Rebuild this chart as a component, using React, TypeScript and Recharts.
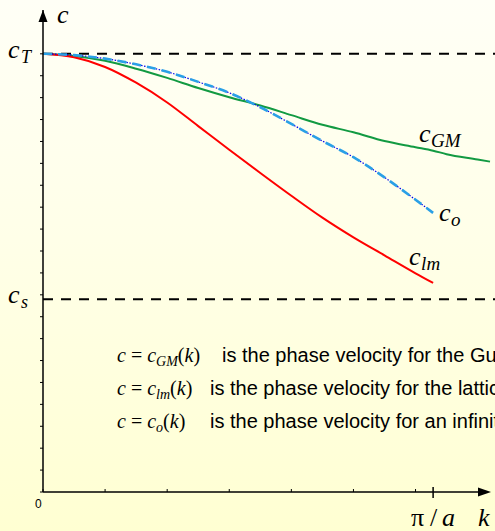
import { LineChart, Line, XAxis, YAxis, ReferenceLine, ReferenceDot, Customized } from "recharts";

// wave number k (a = 1, so the zone edge is at k = pi)
const kValues = [0, 0.25, 0.5, 0.75, 1, 1.25, 1.5, 1.75, 2, 2.25, 2.5, 2.75, 3, Math.PI, 3.25, 3.5, 3.6];
// phase velocities, scaled so that c_T = 1
const cGM = [1.0, 0.995, 0.984, 0.966, 0.945, 0.922, 0.901, 0.882, 0.86, 0.838, 0.821, 0.801, 0.787, 0.779, 0.771, 0.759, 0.754];
const cLm = [1.0, 0.992, 0.97, 0.934, 0.889, 0.835, 0.781, 0.728, 0.676, 0.626, 0.581, 0.54, 0.499, 0.477, null, null, null];
const cO = [1.0, 0.997, 0.989, 0.976, 0.959, 0.936, 0.911, 0.878, 0.84, 0.801, 0.764, 0.718, 0.667, 0.637, null, null, null];

const cT = 1;
const cS = 0.44;

const xTicks = [0, 0.5, 1, 1.5, 2, 2.5, 3, Math.PI];
const yTicks = [0, 0.05, 0.1, 0.15, 0.2, 0.25, 0.3, 0.35, 0.4, 0.45, 0.5, 0.55, 0.6, 0.65, 0.7, 0.75, 0.8, 0.85, 0.9, 0.95, 1];

const legendLines = [
  { sub: "GM", text: "is the phase velocity for the Gurtin–Murdoch model", textX: 222 },
  { sub: "lm", text: "is the phase velocity for the lattice model", textX: 210 },
  { sub: "o", text: "is the phase velocity for an infinite plate", textX: 210 },
];

const W = 495;
const H = 531;
const LEFT = 43;
const TOP = 10;
const BOTTOM = 492;
const X_ARROW_TIP = 491;

const SERIF = '"Liberation Serif", "Times New Roman", serif';
const SANS = '"Liberation Sans", Arial, sans-serif';

const data = kValues.map((k, i) => ({ k, gm: cGM[i], lm: cLm[i], o: cO[i] }));

function XTick({ x, y, payload }: any) {
  const isEdge = Math.abs(payload.value - Math.PI) < 1e-6;
  return (
    <g>
      {isEdge ? (
        <line x1={x} x2={x} y1={y - 5} y2={y + 6} stroke="#000" strokeWidth={1.5} />
      ) : (
        <line x1={x} x2={x} y1={y - 3} y2={y} stroke="#000" strokeWidth={1} />
      )}
      {payload.value === 0 && (
        <text x={x - 8} y={y + 16} fontFamily={SANS} fontSize={12} fill="#000">
          0
        </text>
      )}
    </g>
  );
}

function YTick({ x, y }: any) {
  return <line x1={x - 3} x2={x} y1={y} y2={y} stroke="#000" strokeWidth={1} />;
}

function LevelLabel({ viewBox, sub }: any) {
  const { x, y } = viewBox;
  return (
    <text x={x - 35} y={y + 4} fontFamily={SERIF} fontStyle="italic" fontSize={26} fill="#000">
      c
      <tspan x={x - 22} dy={5} fontSize={18}>
        {sub}
      </tspan>
    </text>
  );
}

function CurveLabel({ viewBox, sub, dx, dy }: any) {
  const x = viewBox.x + dx;
  const y = viewBox.y + dy;
  return (
    <text x={x} y={y} fontFamily={SERIF} fontStyle="italic" fontSize={26} fill="#000">
      c
      <tspan x={x + 12} dy={5} fontSize={19}>
        {sub}
      </tspan>
    </text>
  );
}

function Decorations() {
  return (
    <g>
      {/* x axis with arrow */}
      <line x1={LEFT} x2={X_ARROW_TIP - 8} y1={BOTTOM} y2={BOTTOM} stroke="#000" strokeWidth={1.5} />
      <path d={`M${X_ARROW_TIP},${BOTTOM} L${X_ARROW_TIP - 13},${BOTTOM - 4.5} L${X_ARROW_TIP - 13},${BOTTOM + 4.5} Z`} fill="#000" />
      {/* y axis arrow */}
      <path d={`M${LEFT},${TOP} L${LEFT - 4.5},${TOP + 12} L${LEFT + 4.5},${TOP + 12} Z`} fill="#000" />

      <text x={57} y={23} fontFamily={SERIF} fontStyle="italic" fontSize={26} fill="#000">
        c
      </text>
      <text x={411} y={526} fontFamily={SERIF} fontSize={26} fill="#000">
        π
      </text>
      <text x={430} y={526} fontFamily={SERIF} fontSize={26} fill="#000">
        /
      </text>
      <text x={442} y={526} fontFamily={SERIF} fontStyle="italic" fontSize={26} fill="#000">
        a
      </text>
      <text x={478} y={526} fontFamily={SERIF} fontStyle="italic" fontSize={26} fill="#000">
        k
      </text>

      {legendLines.map((l, i) => {
        const y = 362 + i * 33;
        return (
          <g key={l.sub}>
            <text x={117} y={y} fontFamily={SERIF} fontSize={20} fill="#000" style={{ whiteSpace: "pre" }}>
              <tspan fontStyle="italic">c</tspan>
              <tspan> = </tspan>
              <tspan fontStyle="italic">c</tspan>
              <tspan fontStyle="italic" fontSize={14} dy={4}>
                {l.sub}
              </tspan>
              <tspan dy={-4}>(</tspan>
              <tspan fontStyle="italic">k</tspan>
              <tspan>)</tspan>
            </text>
            <text x={l.textX} y={y} fontFamily={SANS} fontSize={20} fill="#000">
              {l.text}
            </text>
          </g>
        );
      })}
    </g>
  );
}

export default function App() {
  return (
    <div
      style={{
        position: "absolute",
        left: 0,
        top: 0,
        width: W,
        height: H,
        overflow: "hidden",
        background: "linear-gradient(to bottom, #fffff6 0%, #ffffe8 45%, #ffffd2 100%)",
      }}
    >
      <LineChart width={W} height={H} data={data} margin={{ top: TOP, right: 0, bottom: 0, left: 0 }}>
        <XAxis
          dataKey="k"
          type="number"
          domain={[0, 3.64]}
          ticks={xTicks}
          height={H - BOTTOM}
          axisLine={false}
          tickLine={false}
          tickSize={0}
          tickMargin={0}
          tick={<XTick />}
          interval={0}
          allowDataOverflow
        />
        <YAxis
          type="number"
          domain={[0, 1.1]}
          ticks={yTicks}
          width={LEFT}
          axisLine={{ stroke: "#000", strokeWidth: 1.5 }}
          tickLine={false}
          tickSize={0}
          tickMargin={0}
          tick={<YTick />}
          interval={0}
          allowDataOverflow
        />
        <ReferenceLine y={cT} stroke="#000" strokeWidth={2} strokeDasharray="10 8" label={<LevelLabel sub="T" />} />
        <ReferenceLine y={cS} stroke="#000" strokeWidth={2} strokeDasharray="10 8" label={<LevelLabel sub="s" />} />

        <Line type="monotone" dataKey="gm" stroke="#129a42" strokeWidth={2} dot={false} isAnimationActive={false} />
        <Line type="monotone" dataKey="lm" stroke="#ff0000" strokeWidth={2} dot={false} isAnimationActive={false} connectNulls={false} />
        <Line type="monotone" dataKey="o" stroke="#0000ee" strokeWidth={1.2} strokeDasharray="1.5 1.5" dot={false} isAnimationActive={false} />
        <Line type="monotone" dataKey="o" stroke="#2aa0e6" strokeWidth={2.6} strokeDasharray="9 6" dot={false} isAnimationActive={false} />

        <ReferenceDot x={3.6} y={cGM[cGM.length - 1]} r={0} stroke="none" label={<CurveLabel sub="GM" dx={-71} dy={-20} />} />
        <ReferenceDot x={Math.PI} y={cO[13]} r={0} stroke="none" label={<CurveLabel sub="o" dx={6} dy={8} />} />
        <ReferenceDot x={Math.PI} y={cLm[13]} r={0} stroke="none" label={<CurveLabel sub="lm" dx={-24} dy={-18} />} />

        <Customized component={<Decorations />} />
      </LineChart>
    </div>
  );
}
